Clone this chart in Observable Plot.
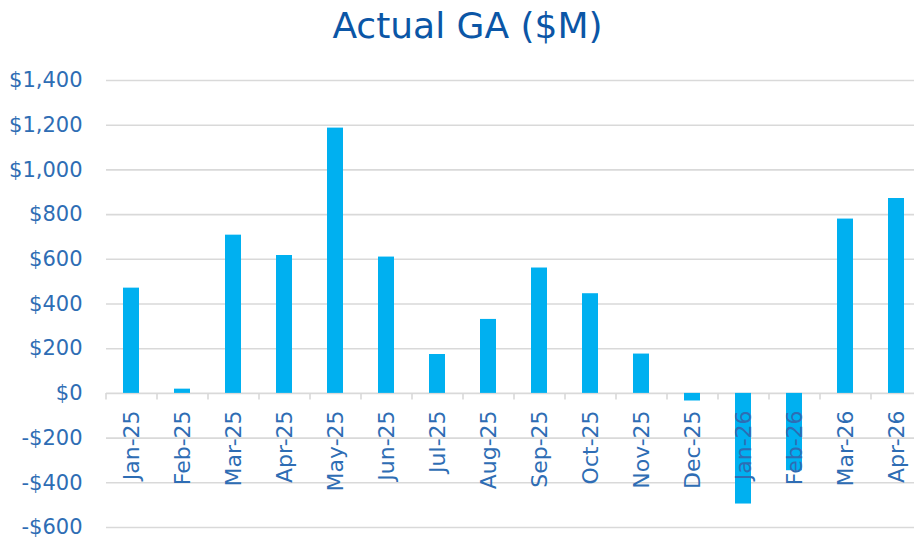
<!DOCTYPE html>
<html>
<head>
<meta charset="utf-8">
<script src="https://cdn.jsdelivr.net/npm/d3@7"></script>
<script src="https://cdn.jsdelivr.net/npm/@observablehq/plot@0.6"></script>
<style>
  html, body { margin: 0; padding: 0; background: #fff; }
  #wrap { width: 914px; height: 538px; overflow: hidden; position: relative; }
  #title { height: 56px; width: 914px; box-sizing: border-box; padding-left: 21px; text-align: center;
           font-family: "DejaVu Sans", sans-serif; font-size: 36px; line-height: 52px; color: #0B56A6; }
  svg { display: block; overflow: visible; }
</style>
</head>
<body>
<div id="wrap">
  <div id="title">Actual GA ($M)</div>
  <div id="chart"></div>
</div>
<script>
const months = ["Jan-25","Feb-25","Mar-25","Apr-25","May-25","Jun-25","Jul-25","Aug-25","Sep-25","Oct-25","Nov-25","Dec-25","Jan-26","Feb-26","Mar-26","Apr-26"];
const values = [471, 19, 708, 617, 1187, 610, 174, 331, 561, 446, 176, -34, -495, -346, 780, 872];
const yTicks = [-600, -400, -200, 0, 200, 400, 600, 800, 1000, 1200, 1400];

const data = months.map((m, i) => ({month: m, value: values[i]}));
const fmt = d => (d < 0 ? "-" : "") + "$" + d3.format(",")(Math.abs(d));

const font = "DejaVu Sans, sans-serif";
const labelColor = "#2E6DB4";
const xRange = [106, 922];
const step = (xRange[1] - xRange[0]) / months.length;

const chart = Plot.plot({
  width: 914,
  height: 482,
  marginTop: 24,
  marginBottom: 11,
  marginLeft: 106,
  marginRight: 0,
  style: {fontFamily: font, background: "white", overflow: "visible"},
  x: {domain: months, range: xRange, paddingInner: 0.686, paddingOuter: 0.343, axis: null, label: null},
  y: {domain: [-600, 1400], axis: null, label: null},
  marks: [
    Plot.ruleY(yTicks, {stroke: "#d9d9d9", strokeWidth: 1.6}),
    Plot.ruleX(months, {x: d => d, y1: 0, y2: -30, dx: -step / 2, stroke: "#d9d9d9", strokeWidth: 1.6}),
    Plot.barY(data, {x: "month", y: "value", fill: "#00B0F0"}),
    Plot.axisY(yTicks, {tickSize: 0, tickPadding: 24, tickFormat: fmt, fontSize: 21, fill: labelColor, anchor: "left", label: null}),
    Plot.text(data, {x: "month", y: () => 0, text: "month", rotate: -90, textAnchor: "end", dy: 17,
      fontSize: 22, fill: labelColor})
  ]
});
document.getElementById("chart").appendChild(chart);
</script>
</body>
</html>
